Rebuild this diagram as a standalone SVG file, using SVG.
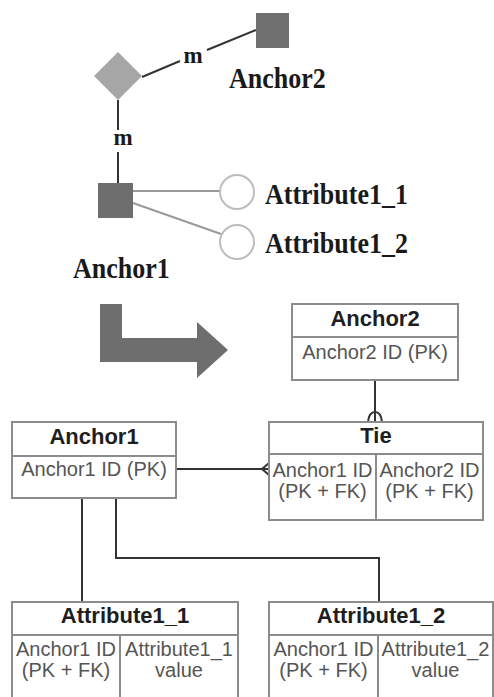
<svg xmlns="http://www.w3.org/2000/svg" width="494" height="697" viewBox="0 0 494 697">
<style>
.lbl{font-family:"Liberation Serif","Times New Roman",serif;font-weight:bold;font-size:26px;fill:#1a1a1a}
.m{font-family:"Liberation Serif","Times New Roman",serif;font-weight:bold;font-size:23px;fill:#1a1a1a;text-anchor:middle}
.tb{fill:#fff;stroke:#8c8c8c;stroke-width:2}
.hd{font-family:"Liberation Sans",Arial,sans-serif;font-weight:bold;font-size:22px;fill:#1e1e1e;text-anchor:middle}
.bd{font-family:"Liberation Sans",Arial,sans-serif;font-size:20px;fill:#555;text-anchor:middle}
.cn{stroke:#333;stroke-width:2;fill:none}
.gl{stroke:#999;stroke-width:2;fill:none}
</style>
<rect width="494" height="697" fill="#fff"/>
<g id="connectors">
<path class="cn" d="M142,77 L180,61 M207,50 L256,30" stroke-width="1.5"/>
<path class="cn" d="M118,100 V130 M118,152 V183" stroke-width="1.5"/>
<path class="gl" d="M133,191 H220 M133,203 L221,234"/>
<path class="cn" d="M375,380 V422 M368,422 Q369,412 375,412 Q381,412 382,422"/>
<path class="cn" d="M176,469 H269 M262,469 L269,463 M262,469 L269,475"/>
<path class="cn" d="M82,498 V602"/>
<path class="cn" d="M116,498 V558 H379 V602"/>
</g>
<g id="anchor2-node">
<rect x="256" y="13" width="33" height="35" fill="#707070"/>
<text class="lbl" transform="translate(229,88) scale(1,1.15)">Anchor2</text>
</g>
<g id="tie-node">
<polygon points="118,52 142,76 118,100 94,76" fill="#a6a6a6"/>
<text class="m" x="193" y="63">m</text>
<text class="m" x="123" y="145">m</text>
</g>
<g id="anchor1-node">
<rect x="98" y="183" width="35" height="35" fill="#6e6e6e"/>
<text class="lbl" transform="translate(73,278) scale(1,1.15)">Anchor1</text>
</g>
<g id="attr1-node">
<circle cx="237" cy="192" r="17" fill="#fff" stroke="#bdbdbd" stroke-width="2"/>
<text class="lbl" transform="translate(265,204) scale(1,1.15)">Attribute1_1</text>
</g>
<g id="attr2-node">
<circle cx="237" cy="242" r="17" fill="#fff" stroke="#bdbdbd" stroke-width="2"/>
<text class="lbl" transform="translate(265,253) scale(1,1.15)">Attribute1_2</text>
</g>
<g id="transform-arrow">
<polygon points="100,304 122,304 122,338 197,338 197,322 228,350 197,378 197,362 100,362" fill="#6e6e6e"/>
</g>
<g id="table-anchor2">
<rect class="tb" x="292" y="304" width="166" height="76"/>
<line class="tb" x1="292" y1="337" x2="458" y2="337"/>
<text class="hd" x="375" y="326">Anchor2</text>
<text class="bd" x="375" y="359">Anchor2 ID (PK)</text>
</g>
<g id="table-anchor1">
<rect class="tb" x="12" y="422" width="164" height="76"/>
<line class="tb" x1="12" y1="456" x2="176" y2="456"/>
<text class="hd" x="94" y="444">Anchor1</text>
<text class="bd" x="94" y="476">Anchor1 ID (PK)</text>
</g>
<g id="table-tie">
<rect class="tb" x="269" y="422" width="214" height="98"/>
<line class="tb" x1="269" y1="454" x2="483" y2="454"/>
<line class="tb" x1="376" y1="454" x2="376" y2="520"/>
<text class="hd" x="376" y="443">Tie</text>
<text class="bd" x="322.5" y="477">Anchor1 ID</text>
<text class="bd" x="322.5" y="498">(PK + FK)</text>
<text class="bd" x="429.5" y="477">Anchor2 ID</text>
<text class="bd" x="429.5" y="498">(PK + FK)</text>
</g>
<g id="table-attribute1-1">
<rect class="tb" x="12" y="602" width="226" height="110"/>
<line class="tb" x1="12" y1="635" x2="238" y2="635"/>
<line class="tb" x1="120" y1="635" x2="120" y2="712"/>
<text class="hd" x="125" y="623">Attribute1_1</text>
<text class="bd" x="66" y="656">Anchor1 ID</text>
<text class="bd" x="66" y="677">(PK + FK)</text>
<text class="bd" x="179" y="656">Attribute1_1</text>
<text class="bd" x="179" y="677">value</text>
</g>
<g id="table-attribute1-2">
<rect class="tb" x="269" y="602" width="224" height="110"/>
<line class="tb" x1="269" y1="635" x2="493" y2="635"/>
<line class="tb" x1="378" y1="635" x2="378" y2="712"/>
<text class="hd" x="381" y="623">Attribute1_2</text>
<text class="bd" x="323.5" y="656">Anchor1 ID</text>
<text class="bd" x="323.5" y="677">(PK + FK)</text>
<text class="bd" x="435.5" y="656">Attribute1_2</text>
<text class="bd" x="435.5" y="677">value</text>
</g>
</svg>
